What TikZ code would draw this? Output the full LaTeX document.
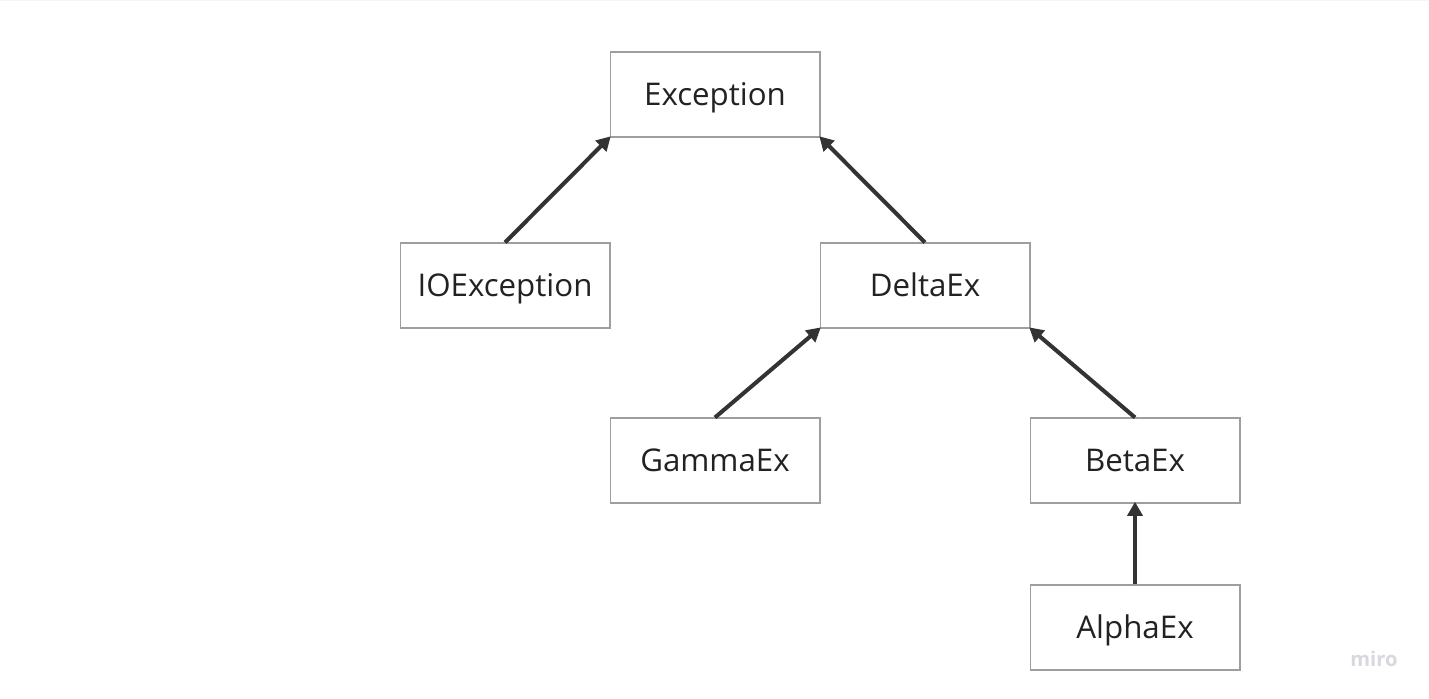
\documentclass[tikz,border=0pt]{standalone}
\usepackage{fontspec}
\setmainfont{Open Sans}
\usepackage{xcolor}
\usetikzlibrary{arrows.meta}

\definecolor{boxline}{HTML}{9E9E9E}
\definecolor{arrowline}{HTML}{333333}
\definecolor{textcol}{HTML}{222222}
\definecolor{logocol}{HTML}{D8D9DF}

\tikzset{
	classbox/.style={draw=boxline, line width=0.6pt, minimum width=4.2cm, minimum height=1.7cm,
		inner sep=0pt, text height=12.2pt, text depth=0pt, text=textcol,
		font=\fontsize{17.8}{20}\selectfont},
	inherits/.style={draw=arrowline, line width=2.3pt,
		-{Triangle[length=8pt, width=8.5pt]}, shorten >=-1pt}
}

\begin{document}
\begin{tikzpicture}[x=0.02cm, y=-0.02cm]
		\useasboundingbox (0,0) rectangle (1429,699);
		\fill[white] (0,0) rectangle (1429,699);
		\draw[color=black!4, line width=1pt] (0,0.5) -- (1429,0.5);
		\node[classbox] (exception) at (715,94.5) {Exception};
		\node[classbox] (ioexc) at (505,285.5) {IOException};
		\node[classbox] (delta) at (925,285.5) {DeltaEx};
		\node[classbox] (gamma) at (715,460.5) {GammaEx};
		\node[classbox] (beta) at (1135,460.5) {BetaEx};
		\node[classbox] (alpha) at (1135,627.5) {AlphaEx};
		\draw[inherits] (ioexc.north) -- (exception.south west);
		\draw[inherits] (delta.north) -- (exception.south east);
		\draw[inherits] (gamma.north) -- (delta.south west);
		\draw[inherits] (beta.north) -- (delta.south east);
		\draw[inherits] (alpha.north) -- (beta.south);
		\node[text=logocol, font=\fontsize{11.5}{12}\selectfont\bfseries] (logo) at (1374,659) {miro};
	\end{tikzpicture}
\end{document}
